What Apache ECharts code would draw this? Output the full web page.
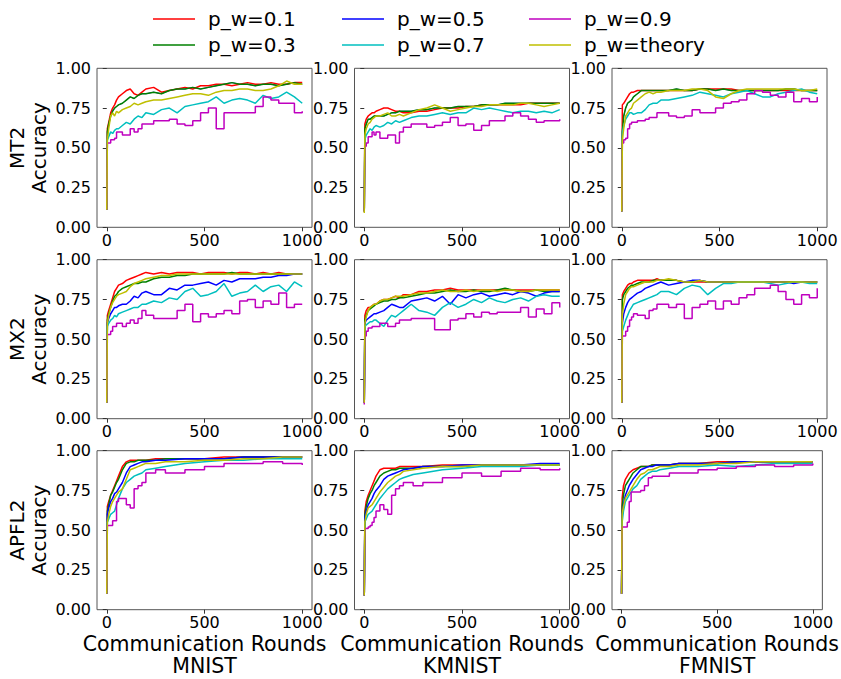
<!DOCTYPE html>
<html>
<head>
<meta charset="utf-8">
<script src="https://cdn.jsdelivr.net/npm/echarts@6/dist/echarts.min.js"></script>
<style>html,body{margin:0;padding:0;background:#fff}#c{width:841px;height:679px}</style>
</head>
<body>
<div id="c"></div>
<script>
// ---------- data ----------
const X_NOISY = [0,3,10,20,30,40,50,60,80,100,120,140,160,180,200,240,280,320,360,400,440,480,520,560,600,640,680,720,760,800,840,880,920,960,1000];
const X_SMOOTH = [0,3,10,20,30,40,50,60,80,100,120,140,160,180,200,250,300,400,500,600,700,800,900,1000];
const SERIES_NAMES = ['p_w=0.1','p_w=0.3','p_w=0.5','p_w=0.7','p_w=0.9','p_w=theory'];
const ROW_NAMES = ['MT2','MX2','APFL2'];
const DATASETS = ['MNIST','KMNIST','FMNIST'];
const Y_TICKS = [0,0.25,0.5,0.75,1.0];
const X_TICKS = [0,500,1000];

// MT2 - MNIST
const mt2_mnist_01 = [.11,.62,.66,.72,.75,.77,.80,.82,.84,.86,.87,.84,.83,.85,.87,.88,.85,.86,.87,.88,.87,.89,.89,.90,.90,.89,.90,.91,.90,.90,.91,.90,.90,.91,.91];
const mt2_mnist_03 = [.11,.60,.65,.70,.73,.75,.76,.77,.78,.80,.82,.81,.83,.84,.84,.85,.84,.86,.87,.87,.88,.87,.88,.89,.90,.91,.90,.90,.89,.90,.90,.89,.90,.91,.90];
const mt2_mnist_05 = [.11,.60,.65,.70,.73,.75,.76,.77,.78,.80,.82,.81,.83,.84,.84,.85,.84,.86,.87,.87,.88,.87,.88,.89,.90,.91,.90,.90,.89,.90,.90,.89,.90,.91,.90];
const mt2_mnist_07 = [.11,.55,.57,.60,.59,.61,.62,.62,.64,.66,.65,.68,.70,.69,.72,.71,.74,.75,.72,.76,.77,.78,.79,.82,.78,.80,.81,.80,.78,.83,.81,.82,.85,.82,.78];
const mt2_mnist_09 = [.11,.53,.53,.55,.55,.56,.60,.60,.58,.58,.62,.60,.62,.65,.65,.67,.67,.68,.65,.64,.67,.72,.75,.62,.72,.72,.72,.72,.76,.82,.80,.78,.78,.72,.73];
const mt2_mnist_th = [.11,.55,.62,.70,.72,.70,.73,.72,.74,.75,.76,.78,.77,.78,.79,.80,.80,.81,.82,.83,.84,.84,.83,.85,.86,.86,.87,.87,.86,.86,.87,.89,.92,.90,.90];
// MT2 - KMNIST
const mt2_kmnist_01 = [.10,.65,.68,.70,.71,.72,.72,.73,.74,.75,.75,.74,.73,.73,.72,.72,.73,.73,.74,.75,.75,.75,.76,.76,.77,.77,.77,.77,.77,.77,.78,.78,.78,.78,.78];
const mt2_kmnist_03 = [.10,.62,.65,.68,.68,.69,.70,.70,.70,.70,.71,.72,.72,.73,.73,.73,.74,.74,.75,.75,.75,.76,.76,.76,.77,.77,.77,.78,.78,.78,.78,.78,.78,.78,.78];
const mt2_kmnist_05 = [.10,.62,.65,.68,.68,.69,.70,.70,.70,.70,.71,.72,.72,.73,.73,.73,.74,.74,.75,.75,.75,.76,.76,.76,.77,.77,.77,.78,.78,.78,.78,.78,.78,.78,.78];
const mt2_kmnist_07 = [.10,.55,.58,.60,.62,.61,.63,.64,.63,.64,.66,.65,.67,.66,.67,.69,.70,.70,.71,.72,.71,.72,.72,.75,.74,.75,.74,.73,.72,.73,.73,.72,.73,.72,.74];
const mt2_kmnist_09 = [.10,.51,.53,.57,.57,.60,.58,.60,.56,.56,.58,.58,.53,.60,.63,.65,.65,.63,.64,.66,.69,.64,.65,.61,.64,.67,.67,.70,.72,.70,.68,.66,.67,.67,.68];
const mt2_kmnist_th = [.09,.58,.62,.65,.66,.68,.69,.70,.70,.71,.72,.70,.70,.71,.70,.72,.74,.75,.77,.75,.73,.74,.75,.76,.76,.77,.77,.77,.77,.78,.78,.77,.76,.77,.78];
// MT2 - FMNIST
const mt2_fmnist_01 = [.10,.77,.78,.80,.82,.84,.85,.85,.86,.86,.86,.86,.86,.86,.86,.86,.86,.86,.86,.87,.87,.87,.87,.87,.86,.86,.86,.86,.86,.86,.86,.86,.86,.86,.86];
const mt2_fmnist_03 = [.10,.60,.70,.75,.78,.79,.80,.82,.84,.86,.86,.86,.86,.86,.86,.86,.87,.86,.86,.87,.87,.86,.87,.86,.86,.86,.86,.86,.86,.86,.87,.87,.86,.86,.86];
const mt2_fmnist_05 = [.10,.60,.70,.75,.78,.79,.80,.82,.84,.86,.86,.86,.86,.86,.86,.86,.87,.86,.86,.87,.87,.86,.87,.86,.86,.86,.86,.86,.86,.86,.87,.87,.86,.86,.86];
const mt2_fmnist_07 = [.10,.60,.64,.68,.70,.72,.72,.71,.72,.72,.74,.77,.78,.78,.80,.80,.81,.82,.83,.85,.84,.83,.82,.84,.85,.86,.84,.82,.82,.84,.85,.86,.87,.85,.84];
const mt2_fmnist_09 = [.10,.53,.55,.56,.62,.65,.66,.66,.67,.67,.68,.69,.69,.72,.72,.70,.69,.70,.74,.72,.72,.75,.78,.79,.80,.84,.86,.85,.83,.82,.85,.79,.81,.79,.82];
const mt2_fmnist_th = [.10,.55,.62,.70,.72,.74,.75,.78,.80,.82,.84,.85,.84,.85,.85,.86,.86,.86,.87,.87,.86,.82,.81,.84,.86,.87,.87,.87,.87,.87,.87,.87,.86,.86,.87];
// MX2 - MNIST
const mx2_mnist_01 = [.10,.65,.68,.72,.76,.80,.82,.84,.85,.87,.88,.89,.90,.91,.92,.91,.92,.91,.92,.92,.92,.91,.92,.92,.92,.91,.92,.92,.91,.92,.91,.92,.91,.91,.91];
const mx2_mnist_03 = [.10,.62,.66,.70,.74,.77,.78,.80,.82,.83,.84,.85,.85,.86,.86,.88,.89,.89,.90,.90,.91,.91,.91,.91,.91,.92,.91,.91,.91,.91,.91,.91,.91,.91,.91];
const mx2_mnist_05 = [.10,.60,.63,.66,.68,.70,.70,.71,.72,.72,.74,.77,.76,.79,.80,.78,.78,.82,.81,.84,.84,.85,.86,.84,.87,.86,.88,.88,.88,.89,.89,.90,.90,.91,.91];
const mx2_mnist_07 = [.10,.58,.60,.62,.63,.65,.64,.66,.67,.68,.69,.70,.70,.72,.72,.74,.73,.76,.75,.80,.82,.77,.78,.80,.85,.77,.79,.80,.84,.80,.83,.84,.80,.86,.83];
const mx2_mnist_09 = [.10,.53,.53,.55,.58,.58,.60,.60,.58,.60,.62,.60,.63,.68,.65,.63,.63,.63,.68,.72,.61,.66,.64,.66,.68,.66,.74,.75,.70,.74,.72,.79,.70,.72,.72];
const mx2_mnist_th = [.10,.60,.65,.70,.73,.75,.77,.78,.79,.80,.83,.85,.86,.87,.88,.89,.90,.90,.91,.91,.91,.91,.91,.91,.91,.91,.91,.91,.91,.91,.91,.91,.91,.91,.91];
// MX2 - KMNIST
const mx2_kmnist_01 = [.10,.65,.68,.70,.70,.71,.72,.72,.74,.75,.75,.76,.77,.76,.78,.78,.80,.80,.81,.81,.82,.81,.81,.81,.81,.81,.81,.81,.81,.81,.81,.81,.81,.81,.81];
const mx2_kmnist_03 = [.10,.62,.65,.68,.69,.70,.71,.72,.73,.74,.74,.75,.75,.76,.76,.77,.78,.79,.79,.80,.81,.80,.80,.81,.80,.80,.81,.82,.81,.80,.80,.81,.80,.80,.80];
const mx2_kmnist_05 = [.10,.60,.62,.63,.64,.65,.66,.66,.67,.68,.70,.72,.71,.70,.70,.74,.75,.76,.74,.77,.72,.78,.76,.78,.79,.77,.78,.79,.78,.80,.79,.77,.79,.80,.80];
const mx2_kmnist_07 = [.10,.58,.59,.60,.61,.61,.62,.62,.60,.58,.62,.65,.64,.66,.68,.72,.68,.67,.65,.70,.73,.70,.72,.75,.73,.76,.74,.73,.75,.76,.74,.77,.78,.77,.77];
const mx2_kmnist_09 = [.09,.52,.55,.57,.57,.58,.58,.58,.60,.60,.58,.58,.60,.62,.62,.63,.63,.63,.56,.56,.62,.63,.66,.64,.67,.66,.67,.67,.67,.70,.64,.69,.66,.73,.70];
const mx2_kmnist_th = [.10,.60,.64,.68,.70,.71,.72,.72,.74,.75,.75,.76,.77,.77,.77,.78,.79,.79,.80,.81,.80,.80,.81,.80,.81,.81,.80,.81,.81,.80,.80,.81,.81,.81,.81];
// MX2 - FMNIST
const mx2_fmnist_01 = [.10,.78,.80,.82,.84,.85,.85,.86,.87,.87,.87,.87,.87,.88,.87,.87,.87,.86,.86,.86,.86,.86,.86,.86,.86,.86,.86,.86,.86,.86,.86,.86,.86,.86,.86];
const mx2_fmnist_03 = [.10,.75,.78,.80,.82,.83,.84,.84,.85,.86,.86,.86,.87,.87,.87,.87,.87,.86,.86,.87,.86,.86,.86,.86,.86,.86,.86,.86,.86,.86,.86,.86,.86,.86,.86];
const mx2_fmnist_05 = [.10,.60,.66,.70,.73,.75,.76,.77,.79,.80,.82,.83,.84,.85,.86,.84,.85,.86,.87,.87,.86,.86,.86,.86,.86,.86,.86,.86,.86,.86,.86,.85,.86,.86,.86];
const mx2_fmnist_07 = [.10,.55,.58,.62,.65,.68,.70,.72,.73,.74,.75,.76,.77,.78,.80,.80,.78,.82,.84,.83,.78,.82,.85,.85,.86,.86,.86,.86,.85,.84,.85,.86,.86,.85,.85];
const mx2_fmnist_09 = [.10,.52,.52,.55,.58,.62,.64,.66,.65,.65,.63,.68,.69,.72,.72,.70,.72,.63,.70,.72,.74,.69,.74,.72,.76,.78,.82,.82,.84,.80,.75,.72,.78,.76,.82];
const mx2_fmnist_th = [.10,.65,.72,.78,.80,.82,.83,.83,.84,.85,.86,.86,.86,.87,.87,.88,.87,.86,.86,.87,.86,.86,.86,.86,.86,.86,.86,.86,.86,.86,.86,.86,.86,.86,.86];
// APFL2 - MNIST
const apfl2_mnist_01 = [.10,.65,.68,.72,.75,.78,.81,.84,.90,.93,.94,.94,.94,.94,.94,.95,.95,.95,.95,.96,.96,.96,.96,.96];
const apfl2_mnist_03 = [.10,.62,.66,.72,.74,.77,.80,.82,.88,.92,.93,.93,.94,.94,.94,.94,.95,.95,.95,.95,.96,.96,.96,.96];
const apfl2_mnist_05 = [.10,.60,.64,.68,.70,.73,.74,.76,.80,.86,.90,.91,.92,.93,.93,.94,.94,.95,.95,.95,.96,.96,.96,.96];
const apfl2_mnist_07 = [.10,.55,.57,.60,.61,.62,.66,.70,.76,.80,.82,.84,.85,.86,.88,.89,.90,.92,.93,.94,.94,.95,.95,.95];
const apfl2_mnist_09 = [.10,.53,.53,.53,.56,.56,.68,.70,.70,.66,.64,.76,.78,.80,.86,.88,.86,.88,.90,.92,.92,.93,.92,.91];
const apfl2_mnist_th = [.10,.55,.60,.65,.68,.70,.72,.74,.76,.82,.88,.89,.90,.91,.92,.92,.93,.93,.94,.94,.95,.95,.96,.96];
// APFL2 - KMNIST
const apfl2_kmnist_01 = [.09,.62,.68,.72,.75,.78,.81,.84,.88,.89,.89,.89,.89,.90,.90,.90,.90,.91,.91,.91,.91,.91,.91,.91];
const apfl2_kmnist_03 = [.09,.60,.65,.70,.73,.75,.78,.80,.84,.86,.87,.88,.88,.89,.89,.89,.90,.90,.90,.91,.91,.91,.91,.91];
const apfl2_kmnist_05 = [.09,.58,.62,.66,.68,.70,.73,.75,.78,.82,.84,.85,.86,.87,.88,.89,.90,.90,.91,.91,.91,.91,.92,.92];
const apfl2_kmnist_07 = [.09,.55,.57,.60,.61,.62,.64,.66,.70,.73,.76,.78,.80,.82,.83,.85,.86,.88,.89,.90,.90,.90,.91,.91];
const apfl2_kmnist_09 = [.09,.51,.51,.52,.53,.55,.58,.62,.66,.63,.60,.72,.76,.78,.80,.78,.80,.83,.86,.84,.87,.89,.88,.89];
const apfl2_kmnist_th = [.09,.55,.60,.64,.65,.66,.68,.70,.74,.77,.80,.82,.84,.85,.87,.88,.89,.90,.90,.91,.91,.91,.91,.91];
// APFL2 - FMNIST
const apfl2_fmnist_01 = [.10,.70,.78,.82,.84,.86,.87,.88,.89,.90,.90,.90,.91,.91,.91,.91,.92,.92,.93,.93,.93,.93,.93,.93];
const apfl2_fmnist_03 = [.10,.65,.72,.78,.80,.82,.84,.86,.88,.90,.90,.90,.91,.91,.91,.91,.92,.92,.92,.93,.93,.93,.93,.93];
const apfl2_fmnist_05 = [.10,.60,.66,.72,.75,.78,.80,.82,.85,.88,.89,.90,.90,.91,.91,.91,.92,.92,.92,.93,.93,.93,.93,.93];
const apfl2_fmnist_07 = [.10,.55,.62,.68,.70,.72,.74,.76,.78,.82,.84,.86,.87,.87,.88,.89,.90,.90,.91,.90,.91,.92,.92,.92];
const apfl2_fmnist_09 = [.10,.52,.52,.52,.55,.68,.74,.74,.74,.75,.78,.83,.84,.84,.84,.86,.86,.88,.89,.90,.91,.90,.91,.92];
const apfl2_fmnist_th = [.10,.60,.65,.70,.72,.74,.76,.78,.82,.85,.86,.88,.88,.89,.90,.90,.91,.91,.92,.92,.93,.93,.93,.93];

const PANELS = [
  [ {x:X_NOISY, ys:[mt2_mnist_01,mt2_mnist_03,mt2_mnist_05,mt2_mnist_07,mt2_mnist_09,mt2_mnist_th]},
    {x:X_NOISY, ys:[mt2_kmnist_01,mt2_kmnist_03,mt2_kmnist_05,mt2_kmnist_07,mt2_kmnist_09,mt2_kmnist_th]},
    {x:X_NOISY, ys:[mt2_fmnist_01,mt2_fmnist_03,mt2_fmnist_05,mt2_fmnist_07,mt2_fmnist_09,mt2_fmnist_th]} ],
  [ {x:X_NOISY, ys:[mx2_mnist_01,mx2_mnist_03,mx2_mnist_05,mx2_mnist_07,mx2_mnist_09,mx2_mnist_th]},
    {x:X_NOISY, ys:[mx2_kmnist_01,mx2_kmnist_03,mx2_kmnist_05,mx2_kmnist_07,mx2_kmnist_09,mx2_kmnist_th]},
    {x:X_NOISY, ys:[mx2_fmnist_01,mx2_fmnist_03,mx2_fmnist_05,mx2_fmnist_07,mx2_fmnist_09,mx2_fmnist_th]} ],
  [ {x:X_SMOOTH, ys:[apfl2_mnist_01,apfl2_mnist_03,apfl2_mnist_05,apfl2_mnist_07,apfl2_mnist_09,apfl2_mnist_th]},
    {x:X_SMOOTH, ys:[apfl2_kmnist_01,apfl2_kmnist_03,apfl2_kmnist_05,apfl2_kmnist_07,apfl2_kmnist_09,apfl2_kmnist_th]},
    {x:X_SMOOTH, ys:[apfl2_fmnist_01,apfl2_fmnist_03,apfl2_fmnist_05,apfl2_fmnist_07,apfl2_fmnist_09,apfl2_fmnist_th]} ]
];

// ---------- style ----------
const COLORS = ['#ff0000','#008000','#0000ff','#00bfbf','#bf00bf','#bfbf00'];
const FONT = 'DejaVu Sans';
const GRID_LEFT = [97, 354.5, 612];
const GRID_TOP = [68.3, 259.7, 450.7];
const GRID_W = 215, GRID_H = 159;

const grids = [], xAxes = [], yAxes = [], series = [];
for (let r = 0; r < 3; r++) {
  for (let c = 0; c < 3; c++) {
    const gi = r * 3 + c;
    grids.push({left: GRID_LEFT[c], top: GRID_TOP[r], width: GRID_W, height: GRID_H,
      show: true, borderColor: '#555', borderWidth: 1, backgroundColor: 'transparent', containLabel: false});
    xAxes.push({
      type: 'value', gridIndex: gi, min: -50, max: 1050,
      axisLine: {show: false},
      axisTick: {show: true, length: 4, customValues: X_TICKS, lineStyle: {color: '#333'}},
      axisLabel: {show: true, customValues: X_TICKS, margin: 5, color: '#000', fontFamily: FONT, fontSize: 16,
        showMinLabel: true, showMaxLabel: true, formatter: v => String(Math.round(v))},
      splitLine: {show: false},
      name: r === 2 ? 'Communication Rounds\n' + DATASETS[c] : '',
      nameLocation: 'middle', nameGap: 23,
      nameTextStyle: {fontFamily: FONT, fontSize: 20.5, color: '#000', lineHeight: 22}
    });
    yAxes.push({
      type: 'value', gridIndex: gi, min: 0, max: 1, interval: 0.25,
      axisLine: {show: false},
      axisTick: {show: true, length: 4, lineStyle: {color: '#333'}},
      axisLabel: {margin: 6, color: '#000', fontFamily: FONT, fontSize: 16, formatter: v => v.toFixed(2)},
      splitLine: {show: false},
      name: c === 0 ? ROW_NAMES[r] + '\nAccuracy' : '',
      nameLocation: 'middle', nameGap: 47, nameRotate: 90,
      nameTextStyle: {fontFamily: FONT, fontSize: 20, color: '#000', lineHeight: 22}
    });
    const p = PANELS[r][c];
    p.ys.forEach((ys, k) => {
      const hidden = (r === 0 && k === 2);
      series.push({
        type: 'line', name: SERIES_NAMES[k], xAxisIndex: gi, yAxisIndex: gi,
        data: p.x.map((xv, i) => [xv, ys[i]]),
        symbol: 'none', showSymbol: false, animation: false,
        step: k === 4 ? 'end' : false,
        z: hidden ? 1 : 2,
        lineStyle: {color: COLORS[k], width: hidden ? 0.8 : 1.5},
        itemStyle: {color: COLORS[k]}
      });
    });
  }
}

const legendBase = {
  orient: 'vertical', itemWidth: 42, itemHeight: 1.5, itemGap: 6, icon: 'rect',
  textStyle: {fontFamily: FONT, fontSize: 20, color: '#000', padding: [0, 0, 0, 8]},
  selectedMode: false
};
const legends = [
  Object.assign({}, legendBase, {left: 148, top: 4, data: [SERIES_NAMES[0], SERIES_NAMES[1]]}),
  Object.assign({}, legendBase, {left: 337, top: 4, data: [SERIES_NAMES[2], SERIES_NAMES[3]]}),
  Object.assign({}, legendBase, {left: 524, top: 4, data: [SERIES_NAMES[4], SERIES_NAMES[5]]})
];

const chart = echarts.init(document.getElementById('c'), null, {renderer: 'svg', width: 841, height: 679});
chart.setOption({
  backgroundColor: '#fff',
  animation: false,
  legend: legends,
  grid: grids, xAxis: xAxes, yAxis: yAxes, series: series
});
</script>
</body>
</html>
